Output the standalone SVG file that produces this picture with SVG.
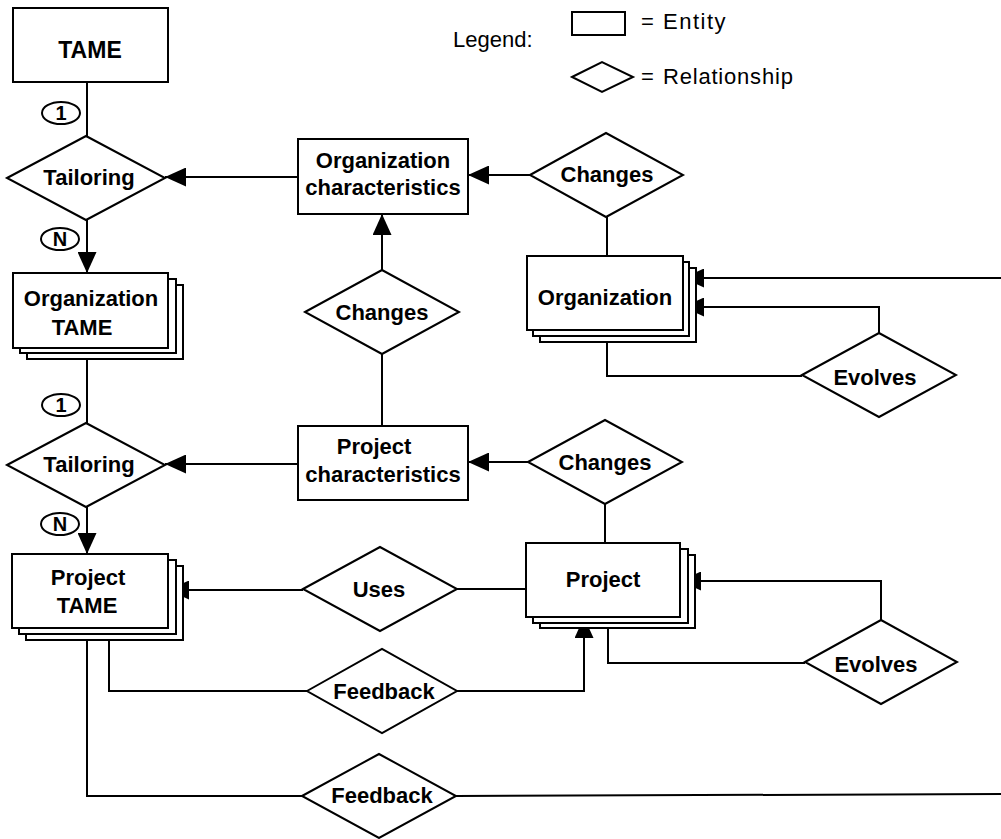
<svg xmlns="http://www.w3.org/2000/svg" width="1001" height="839" viewBox="0 0 1001 839">
<style>
.box{fill:#fff;stroke:#000;stroke-width:2}
.dia{fill:#fff;stroke:#000;stroke-width:2}
.ln{fill:none;stroke:#000;stroke-width:2}
.lb{font-family:"Liberation Sans",Arial,sans-serif;font-weight:bold;font-size:22px;text-anchor:middle;fill:#000}
.card{font-family:"Liberation Sans",Arial,sans-serif;font-weight:bold;font-size:20px;text-anchor:middle;fill:#000}
.lg{font-family:"Liberation Sans",Arial,sans-serif;font-size:22px;fill:#000}
.circ{fill:#fff;stroke:#000;stroke-width:2}
</style>
<defs>
<marker id="arr" markerWidth="21" markerHeight="19" refX="21" refY="9.5" orient="auto" markerUnits="userSpaceOnUse">
<path d="M0,0 L21,9.5 L0,19 z" fill="#000"/>
</marker>
</defs>
<rect width="1001" height="839" fill="#fff"/>

<g id="legend">
<text class="lg" x="453" y="47">Legend:</text>
<rect class="box" x="572" y="12" width="53" height="23"/>
<text class="lg" x="641" y="29">=<tspan x="663" letter-spacing="1.5">Entity</tspan></text>
<polygon class="dia" points="572,77 602,62 633,77 602,92"/>
<text class="lg" x="641" y="84">=<tspan x="663" letter-spacing="0.8">Relationship</tspan></text>
</g>

<g id="connectors">
<line class="ln" x1="87" y1="82" x2="87" y2="136"/>
<line class="ln" x1="87" y1="220" x2="87" y2="273" marker-end="url(#arr)"/>
<line class="ln" x1="298" y1="177" x2="165" y2="177" marker-end="url(#arr)"/>
<line class="ln" x1="530" y1="175" x2="468" y2="175" marker-end="url(#arr)"/>
<line class="ln" x1="607" y1="217" x2="607" y2="256"/>
<line class="ln" x1="382" y1="270" x2="382" y2="214" marker-end="url(#arr)"/>
<line class="ln" x1="382" y1="426" x2="382" y2="354"/>
<line class="ln" x1="1001" y1="278" x2="683" y2="278" marker-end="url(#arr)"/>
<polyline class="ln" points="879,333 879,307 683,307" marker-end="url(#arr)"/>
<polyline class="ln" points="607,342 607,376 802,376"/>
<line class="ln" x1="87" y1="348" x2="87" y2="423"/>
<line class="ln" x1="87" y1="507" x2="87" y2="554" marker-end="url(#arr)"/>
<line class="ln" x1="298" y1="464" x2="165" y2="464" marker-end="url(#arr)"/>
<line class="ln" x1="528" y1="462" x2="468" y2="462" marker-end="url(#arr)"/>
<line class="ln" x1="605" y1="503" x2="605" y2="543"/>
<line class="ln" x1="303" y1="590" x2="168" y2="590" marker-end="url(#arr)"/>
<line class="ln" x1="526" y1="589" x2="456" y2="589"/>
<polyline class="ln" points="881,620 881,581 680,581" marker-end="url(#arr)"/>
<polyline class="ln" points="608,628 608,663 805,663"/>
<polyline class="ln" points="109,628 109,691 307,691"/>
<polyline class="ln" points="456,691 584,691 584,617" marker-end="url(#arr)"/>
<polyline class="ln" points="87,640 87,796 303,796"/>
<line class="ln" x1="456" y1="796" x2="1001" y2="794"/>
</g>

<g id="tame">
<rect class="box" x="13" y="8" width="155" height="74"/>
<text class="lb" x="90" y="58" style="font-size:23px">TAME</text>
</g>

<g id="card1a">
<ellipse class="circ" cx="61" cy="113" rx="19" ry="11"/>
<text class="card" x="61" y="120">1</text>
</g>

<g id="tailoring1">
<polygon class="dia" points="7,178 86,136 165,178 86,220"/>
<text class="lb" x="89" y="185">Tailoring</text>
</g>

<g id="cardNa">
<ellipse class="circ" cx="60" cy="239" rx="19" ry="11"/>
<text class="card" x="60" y="246">N</text>
</g>

<g id="orgtame">
<rect class="box" x="27" y="285" width="156" height="74"/>
<rect class="box" x="20" y="279" width="156" height="74"/>
<rect class="box" x="13" y="273" width="155" height="75"/>
<text class="lb" x="91" y="306">Organization</text>
<text class="lb" x="82" y="335">TAME</text>
</g>

<g id="card1b">
<ellipse class="circ" cx="61" cy="405" rx="19" ry="11"/>
<text class="card" x="61" y="412">1</text>
</g>

<g id="tailoring2">
<polygon class="dia" points="7,465 86,423 165,465 86,507"/>
<text class="lb" x="89" y="472">Tailoring</text>
</g>

<g id="cardNb">
<ellipse class="circ" cx="60" cy="524" rx="19" ry="11"/>
<text class="card" x="60" y="531">N</text>
</g>

<g id="projtame">
<rect class="box" x="26" y="566" width="157" height="74"/>
<rect class="box" x="19" y="560" width="157" height="74"/>
<rect class="box" x="12" y="554" width="156" height="74"/>
<text class="lb" x="88" y="585">Project</text>
<text class="lb" x="87" y="613">TAME</text>
</g>

<g id="orgchar">
<rect class="box" x="298" y="139" width="170" height="75"/>
<text class="lb" x="383" y="168">Organization</text>
<text class="lb" x="383" y="195">characteristics</text>
</g>

<g id="changes1">
<polygon class="dia" points="530,175 606,133 683,175 606,217"/>
<text class="lb" x="607" y="182">Changes</text>
</g>

<g id="organization">
<rect class="box" x="540" y="268" width="156" height="74"/>
<rect class="box" x="533" y="262" width="156" height="74"/>
<rect class="box" x="527" y="256" width="156" height="74"/>
<text class="lb" x="605" y="305">Organization</text>
</g>

<g id="changes2">
<polygon class="dia" points="305,312 382,270 459,312 382,354"/>
<text class="lb" x="382" y="320">Changes</text>
</g>

<g id="evolves1">
<polygon class="dia" points="802,375 879,333 956,375 879,417"/>
<text class="lb" x="875" y="385">Evolves</text>
</g>

<g id="projchar">
<rect class="box" x="298" y="426" width="170" height="74"/>
<text class="lb" x="374" y="454">Project</text>
<text class="lb" x="383" y="482">characteristics</text>
</g>

<g id="changes3">
<polygon class="dia" points="528,462 605,420 682,462 605,504"/>
<text class="lb" x="605" y="470">Changes</text>
</g>

<g id="project">
<rect class="box" x="540" y="555" width="155" height="73"/>
<rect class="box" x="533" y="549" width="155" height="74"/>
<rect class="box" x="526" y="543" width="154" height="74"/>
<text class="lb" x="603" y="587">Project</text>
</g>

<g id="uses">
<polygon class="dia" points="303,589 380,547 457,589 380,631"/>
<text class="lb" x="379" y="597">Uses</text>
</g>

<g id="evolves2">
<polygon class="dia" points="805,662 881,620 957,662 881,704"/>
<text class="lb" x="876" y="672">Evolves</text>
</g>

<g id="feedback1">
<polygon class="dia" points="307,691 382,649 457,691 382,733"/>
<text class="lb" x="384" y="699">Feedback</text>
</g>

<g id="feedback2">
<polygon class="dia" points="302,796 379,754 456,796 379,838"/>
<text class="lb" x="382" y="803">Feedback</text>
</g>
</svg>
